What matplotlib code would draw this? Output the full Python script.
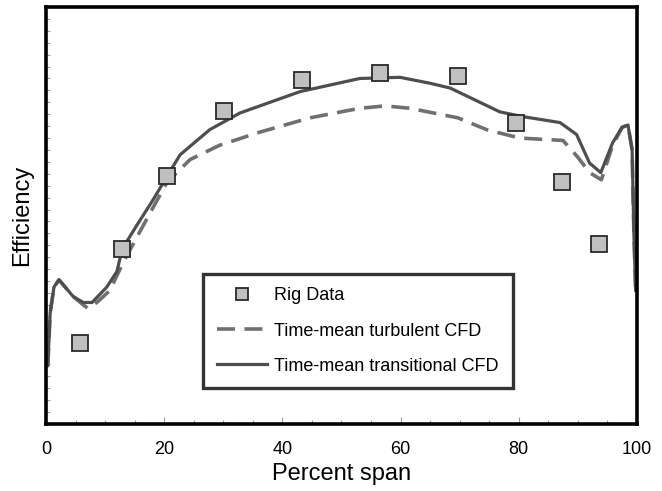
import matplotlib
matplotlib.use("Agg")
import matplotlib.pyplot as plt
from matplotlib.ticker import MultipleLocator, NullFormatter

plt.rcParams['font.family'] = ['Liberation Sans', 'DejaVu Sans']

# rig measurements (percent span, efficiency in arbitrary units)
rig_span = [5.75, 12.9, 20.5, 30.1, 43.3, 56.5, 69.7, 79.5, 87.3, 93.6]
rig_eff = [6.8, 14.7, 20.8, 26.3, 28.9, 29.5, 29.2, 25.3, 20.3, 15.1]

# time-mean transitional CFD
trans_span = [0.3, 0.7, 1.35, 2.2, 4.6, 6.3, 7.8, 10.3, 12.0, 12.9, 15.4, 18.1,
              20.5, 22.7, 27.7, 32.8, 43.0, 53.1, 59.9, 65.0, 68.4, 76.8, 80.7,
              87.0, 89.8, 92.0, 93.9, 95.9, 97.5, 98.5, 99.2, 99.5, 99.8]
trans_eff = [4.9, 9.3, 11.5, 12.1, 10.7, 10.2, 10.2, 11.5, 12.8, 14.7, 16.7, 18.8,
             20.8, 22.6, 24.7, 26.1, 27.9, 29.0, 29.1, 28.6, 28.2, 26.2, 25.8,
             25.3, 24.3, 21.9, 21.1, 23.6, 24.9, 25.1, 23.0, 16.0, 11.2]

# time-mean turbulent CFD
turb_span = [0.3, 0.7, 1.35, 2.2, 4.6, 6.3, 7.1, 8.6, 10.8, 13.0, 15.4, 17.6,
             20.5, 24.4, 29.4, 36.2, 44.7, 53.1, 57.4, 61.6, 69.7, 74.6, 80.2,
             87.5, 90.0, 92.0, 94.0, 95.9, 97.5, 98.5, 99.2, 99.5, 99.8]
turb_eff = [4.9, 9.3, 11.5, 12.1, 10.7, 10.0, 9.7, 10.2, 11.2, 13.5, 15.7, 17.7,
            20.3, 22.2, 23.4, 24.5, 25.7, 26.5, 26.7, 26.5, 25.7, 24.7, 24.0,
            23.8, 22.4, 21.1, 20.5, 23.4, 24.9, 25.1, 23.0, 16.0, 11.2]

fig = plt.figure(figsize=(6.62, 4.91), dpi=100)
ax = fig.add_axes([0.0695, 0.1365, 0.8925, 0.8492])

ax.plot(rig_span, rig_eff, linestyle='none', marker='s', markersize=12,
        markerfacecolor='#c0c0c0', markeredgecolor='#2a2a2a', markeredgewidth=1.3,
        label='Rig Data', zorder=3)
ax.plot(turb_span, turb_eff, color='#707070', lw=2.6, dashes=(5.0, 2.6),
        label='Time-mean turbulent CFD', zorder=2)
ax.plot(trans_span, trans_eff, color='#4e4e4e', lw=2.3,
        label='Time-mean transitional CFD', zorder=2)

ax.set_xlim(0, 100)
ax.set_ylim(0, 35)
ax.xaxis.set_major_locator(MultipleLocator(20))
ax.xaxis.set_minor_locator(MultipleLocator(5))
ax.yaxis.set_major_locator(MultipleLocator(1))
ax.yaxis.set_major_formatter(NullFormatter())
ax.tick_params(axis='x', which='major', direction='in', length=5, width=0.8,
               labelsize=13, pad=12, colors='#999999', labelcolor='black')
ax.tick_params(axis='x', which='minor', direction='in', length=3, width=0.8,
               colors='#999999')
ax.tick_params(axis='y', which='major', direction='in', length=3, width=0.8,
               colors='#999999')

for side in ax.spines.values():
    side.set_linewidth(2.6)
    side.set_color('black')

ax.set_xlabel('Percent span', fontsize=17, labelpad=4)
ax.set_ylabel('Efficiency', fontsize=17, labelpad=6)

leg = ax.legend(loc='lower left', bbox_to_anchor=(0.266, 0.086), borderaxespad=0,
                fontsize=13, frameon=True, fancybox=False, handlelength=2.8,
                handletextpad=0.4, labelspacing=1.0, borderpad=0.75, markerscale=0.75)
leg.get_frame().set_edgecolor('black')
leg.get_frame().set_linewidth(2.4)

fig.savefig('out.png', dpi=100)
